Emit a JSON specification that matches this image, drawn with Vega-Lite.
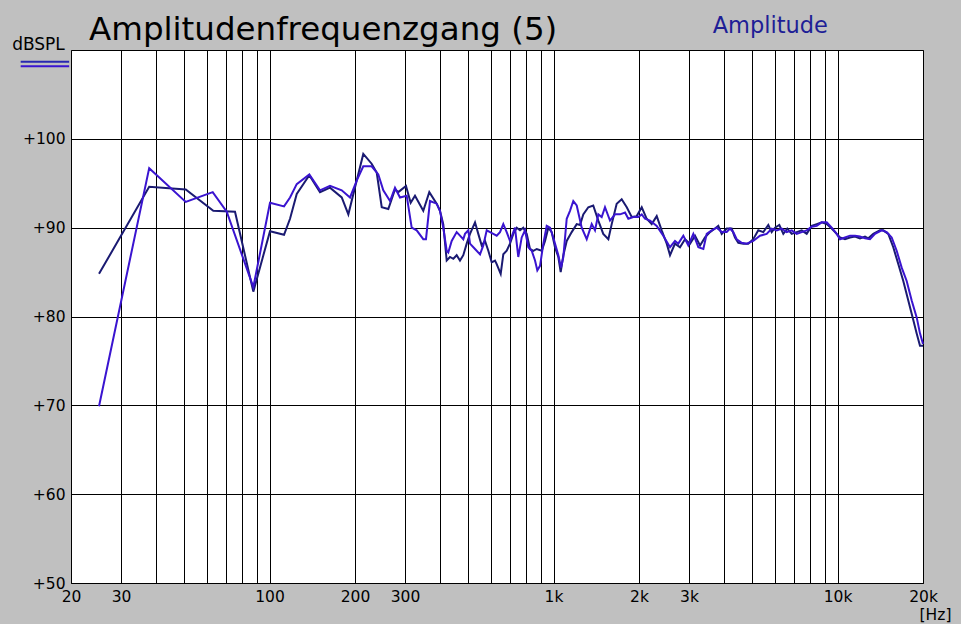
{
"$schema": "https://vega.github.io/schema/vega-lite/v6.json",
"width": 852, "height": 533,
"autosize": "none",
"padding": {"left": 71, "top": 50, "right": 38, "bottom": 41},
"background": "#c0c0c0",
"config": {"view": {"fill": "white", "stroke": "black", "strokeWidth": 1}, "font": "DejaVu Sans"},
"title": {"text": "Amplitudenfrequenzgang (5)", "anchor": "start", "frame": "group", "dx": 18, "offset": -31, "fontSize": 32.5, "fontWeight": "normal", "color": "black", "font": "DejaVu Sans"},
"datasets": {
"navy": [
{"f":25.1,"db":84.8},{"f":37.7,"db":94.6},{"f":50.7,"db":94.3},{"f":63.4,"db":91.9},{"f":75.6,"db":91.8},{"f":87.7,"db":82.8},{"f":100.4,"db":89.6},{"f":112.5,"db":89.2},{"f":118.1,"db":91.0},{"f":124.7,"db":93.8},{"f":138.1,"db":95.9},{"f":150.6,"db":94.0},{"f":163.3,"db":94.5},{"f":179.6,"db":93.4},{"f":189.5,"db":91.5},{"f":202.8,"db":95.3},{"f":213.9,"db":98.3},{"f":228.9,"db":97.2},{"f":238.5,"db":96.2},{"f":248.4,"db":92.3},{"f":262.0,"db":92.1},{"f":276.6,"db":94.3},{"f":284.1,"db":94.0},{"f":302.4,"db":94.7},{"f":314.1,"db":92.8},{"f":325.3,"db":93.6},{"f":347.9,"db":91.9},{"f":365.3,"db":94.0},{"f":387.8,"db":92.7},{"f":398.3,"db":91.9},{"f":409.1,"db":90.4},{"f":420.6,"db":86.3},{"f":432.0,"db":86.7},{"f":443.8,"db":86.5},{"f":456.1,"db":86.9},{"f":468.5,"db":86.3},{"f":481.2,"db":86.9},{"f":494.7,"db":88.2},{"f":508.1,"db":89.3},{"f":529.2,"db":90.6},{"f":543.5,"db":89.3},{"f":558.8,"db":88.0},{"f":573.9,"db":88.5},{"f":589.5,"db":87.4},{"f":605.9,"db":86.1},{"f":622.3,"db":86.3},{"f":630.9,"db":85.9},{"f":651.7,"db":84.8},{"f":665.6,"db":87.0},{"f":684.2,"db":87.4},{"f":702.8,"db":88.2},{"f":721.8,"db":89.3},{"f":742.0,"db":90.0},{"f":762.1,"db":89.7},{"f":782.8,"db":90.0},{"f":804.8,"db":89.3},{"f":826.6,"db":87.6},{"f":849.1,"db":87.4},{"f":872.8,"db":87.6},{"f":908.9,"db":87.4},{"f":933.6,"db":88.5},{"f":958.9,"db":90.0},{"f":985.5,"db":89.5},{"f":1012,"db":87.8},{"f":1040,"db":86.7},{"f":1060,"db":85.0},{"f":1083,"db":86.9},{"f":1113,"db":88.5},{"f":1159,"db":89.5},{"f":1207,"db":90.4},{"f":1240,"db":90.3},{"f":1273,"db":91.5},{"f":1326,"db":92.3},{"f":1380,"db":92.5},{"f":1438,"db":90.8},{"f":1497,"db":89.3},{"f":1560,"db":88.7},{"f":1603,"db":90.4},{"f":1669,"db":92.7},{"f":1738,"db":93.2},{"f":1811,"db":92.3},{"f":1885,"db":91.2},{"f":1963,"db":91.3},{"f":2045,"db":92.3},{"f":2129,"db":91.0},{"f":2217,"db":90.4},{"f":2309,"db":91.3},{"f":2404,"db":89.7},{"f":2504,"db":88.2},{"f":2572,"db":86.9},{"f":2678,"db":88.2},{"f":2788,"db":87.8},{"f":2904,"db":88.7},{"f":3025,"db":88.2},{"f":3150,"db":89.1},{"f":3281,"db":88.0},{"f":3415,"db":88.9},{"f":3557,"db":89.5},{"f":3704,"db":89.9},{"f":3804,"db":90.2},{"f":3911,"db":89.3},{"f":4072,"db":89.9},{"f":4240,"db":89.9},{"f":4355,"db":88.9},{"f":4474,"db":88.3},{"f":4658,"db":88.2},{"f":4851,"db":88.2},{"f":5050,"db":88.7},{"f":5261,"db":89.7},{"f":5479,"db":89.5},{"f":5706,"db":90.3},{"f":5864,"db":89.5},{"f":6025,"db":90.0},{"f":6239,"db":90.3},{"f":6444,"db":89.3},{"f":6656,"db":89.9},{"f":6898,"db":89.3},{"f":7183,"db":89.5},{"f":7481,"db":89.7},{"f":7790,"db":89.3},{"f":8113,"db":90.2},{"f":8449,"db":90.4},{"f":8798,"db":90.6},{"f":9162,"db":90.4},{"f":9540,"db":89.9},{"f":9935,"db":89.3},{"f":10204,"db":88.9},{"f":10626,"db":88.7},{"f":11066,"db":88.9},{"f":11524,"db":89.0},{"f":12001,"db":88.8},{"f":12497,"db":89.0},{"f":12836,"db":88.8},{"f":13367,"db":89.3},{"f":14111,"db":89.7},{"f":14494,"db":89.7},{"f":15094,"db":89.3},{"f":15717,"db":87.8},{"f":16368,"db":85.9},{"f":17045,"db":84.0},{"f":17751,"db":81.8},{"f":18485,"db":79.6},{"f":19002,"db":78.1},{"f":19517,"db":76.7},{"f":20000,"db":76.7}
],
"blue": [
{"f":25.1,"db":69.9},{"f":37.7,"db":96.7},{"f":50.7,"db":92.9},{"f":63.1,"db":94.0},{"f":70.7,"db":91.8},{"f":87.7,"db":83.3},{"f":100.4,"db":92.8},{"f":112.5,"db":92.4},{"f":118.1,"db":93.4},{"f":124.7,"db":94.9},{"f":138.1,"db":96.0},{"f":150.6,"db":94.2},{"f":163.3,"db":94.7},{"f":179.6,"db":94.2},{"f":192.1,"db":93.4},{"f":202.8,"db":95.3},{"f":213.9,"db":96.9},{"f":228.9,"db":96.9},{"f":241.6,"db":96.0},{"f":251.6,"db":94.2},{"f":265.7,"db":93.0},{"f":276.6,"db":94.5},{"f":288.0,"db":93.4},{"f":304.1,"db":93.6},{"f":316.7,"db":90.0},{"f":329.8,"db":89.7},{"f":347.9,"db":88.7},{"f":355.6,"db":88.7},{"f":367.4,"db":93.0},{"f":387.8,"db":92.7},{"f":398.3,"db":91.9},{"f":409.1,"db":90.0},{"f":420.6,"db":87.4},{"f":426.1,"db":87.2},{"f":438.0,"db":88.5},{"f":456.1,"db":89.5},{"f":468.5,"db":89.1},{"f":481.2,"db":88.7},{"f":487.9,"db":89.3},{"f":501.2,"db":89.7},{"f":508.1,"db":88.2},{"f":529.2,"db":87.6},{"f":551.1,"db":87.0},{"f":566.0,"db":88.0},{"f":581.9,"db":89.7},{"f":597.6,"db":89.5},{"f":613.8,"db":89.3},{"f":630.9,"db":89.1},{"f":648.0,"db":89.5},{"f":665.6,"db":90.4},{"f":684.2,"db":89.5},{"f":702.8,"db":88.5},{"f":731.8,"db":90.0},{"f":751.6,"db":86.7},{"f":772.7,"db":88.9},{"f":793.7,"db":89.7},{"f":815.3,"db":87.8},{"f":838.1,"db":87.4},{"f":860.8,"db":86.3},{"f":877.0,"db":85.2},{"f":896.5,"db":85.7},{"f":920.8,"db":88.2},{"f":946.5,"db":90.2},{"f":972.2,"db":90.0},{"f":998.3,"db":88.9},{"f":1040,"db":86.9},{"f":1063,"db":85.5},{"f":1083,"db":86.7},{"f":1113,"db":91.0},{"f":1143,"db":91.9},{"f":1174,"db":93.0},{"f":1207,"db":92.5},{"f":1257,"db":90.0},{"f":1309,"db":88.7},{"f":1363,"db":90.4},{"f":1400,"db":89.7},{"f":1438,"db":91.5},{"f":1478,"db":91.2},{"f":1518,"db":92.3},{"f":1581,"db":90.8},{"f":1647,"db":91.5},{"f":1715,"db":91.5},{"f":1786,"db":91.7},{"f":1834,"db":91.0},{"f":1910,"db":91.2},{"f":1989,"db":91.2},{"f":2045,"db":91.5},{"f":2100,"db":91.0},{"f":2187,"db":90.8},{"f":2309,"db":90.2},{"f":2435,"db":89.1},{"f":2572,"db":87.8},{"f":2678,"db":88.5},{"f":2750,"db":88.2},{"f":2865,"db":89.1},{"f":2983,"db":88.0},{"f":3107,"db":89.3},{"f":3236,"db":87.8},{"f":3370,"db":87.6},{"f":3463,"db":89.3},{"f":3606,"db":89.7},{"f":3755,"db":90.0},{"f":3911,"db":89.5},{"f":4072,"db":89.5},{"f":4182,"db":89.9},{"f":4296,"db":89.5},{"f":4416,"db":88.7},{"f":4598,"db":88.3},{"f":4788,"db":88.2},{"f":5050,"db":88.5},{"f":5334,"db":89.1},{"f":5632,"db":89.3},{"f":5864,"db":89.9},{"f":6109,"db":89.7},{"f":6361,"db":89.9},{"f":6624,"db":89.5},{"f":6898,"db":89.7},{"f":7183,"db":89.3},{"f":7481,"db":89.5},{"f":7790,"db":89.7},{"f":8113,"db":90.1},{"f":8449,"db":90.2},{"f":8798,"db":90.6},{"f":9162,"db":90.6},{"f":9540,"db":90.0},{"f":9935,"db":89.3},{"f":10204,"db":88.7},{"f":10626,"db":88.9},{"f":11066,"db":89.1},{"f":11524,"db":89.1},{"f":12001,"db":89.0},{"f":12497,"db":88.8},{"f":13014,"db":88.7},{"f":13553,"db":89.3},{"f":14307,"db":89.7},{"f":14899,"db":89.5},{"f":15515,"db":88.9},{"f":16157,"db":87.4},{"f":16826,"db":85.5},{"f":17522,"db":84.0},{"f":18247,"db":81.8},{"f":19002,"db":79.9},{"f":19517,"db":78.1},{"f":20000,"db":76.9}
]
},
"layer": [
{
"data": {"name": "navy"},
"mark": {"type": "line", "color": "#1a1a72", "strokeWidth": 2},
"encoding": {
"x": {"field": "f", "type": "quantitative", "scale": {"type": "log", "domain": [20, 20000], "nice": false},
 "axis": {"values": [20,30,40,50,60,70,80,90,100,200,300,400,500,600,700,800,900,1000,2000,3000,4000,5000,6000,7000,8000,9000,10000,20000],
  "labelExpr": "indexof([20,30,100,200,300], datum.value) >= 0 ? datum.value + '' : (datum.value == 1000 ? '1k' : datum.value == 2000 ? '2k' : datum.value == 3000 ? '3k' : datum.value == 10000 ? '10k' : datum.value == 20000 ? '20k' : '')",
  "grid": true, "gridColor": "black", "gridOpacity": 1, "gridWidth": 1, "ticks": false, "domain": false,
  "labelFontSize": 15.5, "labelColor": "black", "labelFont": "DejaVu Sans", "labelPadding": 6, "labelFlush": false, "labelOverlap": false, "labelBound": false,
  "title": "[Hz]", "titleX": 864, "titleY": 31, "titleFontSize": 15.5, "titleFontWeight": "normal", "titleColor": "black", "titleAlign": "center", "titleBaseline": "middle", "titleFont": "DejaVu Sans"}},
"y": {"field": "db", "type": "quantitative", "scale": {"domain": [50, 110], "nice": false, "zero": false},
 "axis": {"values": [50,60,70,80,90,100], "labelExpr": "'+' + datum.value",
  "grid": true, "gridColor": "black", "gridOpacity": 1, "gridWidth": 1, "ticks": false, "domain": false,
  "labelFontSize": 15.5, "labelColor": "black", "labelFont": "DejaVu Sans", "labelPadding": 6, "labelFlush": false, "labelOverlap": false,
  "title": "dBSPL", "titleAngle": 0, "titleX": -33, "titleY": -6, "titleAlign": "center", "titleBaseline": "middle", "titleFontSize": 17, "titleFontWeight": "normal", "titleColor": "black", "titleFont": "DejaVu Sans"}}
}
},
{
"data": {"name": "blue"},
"mark": {"type": "line", "color": "#3a14d0", "strokeWidth": 2},
"encoding": {
"x": {"field": "f", "type": "quantitative", "scale": {"type": "log", "domain": [20, 20000], "nice": false}},
"y": {"field": "db", "type": "quantitative", "scale": {"domain": [50, 110], "nice": false, "zero": false}}
}
},
{
"data": {"values": [{"label": "Amplitude"}]},
"mark": {"type": "text", "fontSize": 22.5, "color": "#1e1e96", "font": "DejaVu Sans", "align": "center", "baseline": "middle", "clip": false},
"encoding": {
"x": {"datum": 5800, "type": "quantitative", "scale": {"type": "log", "domain": [20, 20000], "nice": false}},
"y": {"datum": 112.7, "type": "quantitative", "scale": {"domain": [50, 110], "nice": false, "zero": false}},
"text": {"field": "label"}
}
},
{
"data": {"values": [{"s": "navy"}]},
"mark": {"type": "rule", "color": "#2828b0", "strokeWidth": 2, "clip": false},
"encoding": {
"x": {"datum": 13.3, "type": "quantitative", "scale": {"type": "log", "domain": [20, 20000], "nice": false}},
"x2": {"datum": 19.7},
"y": {"datum": 108.69, "type": "quantitative", "scale": {"domain": [50, 110], "nice": false, "zero": false}}
}
},
{
"data": {"values": [{"s": "blue"}]},
"mark": {"type": "rule", "color": "#3a14d0", "strokeWidth": 2, "clip": false},
"encoding": {
"x": {"datum": 13.3, "type": "quantitative", "scale": {"type": "log", "domain": [20, 20000], "nice": false}},
"x2": {"datum": 19.7},
"y": {"datum": 108.17, "type": "quantitative", "scale": {"domain": [50, 110], "nice": false, "zero": false}}
}
}
]
}
